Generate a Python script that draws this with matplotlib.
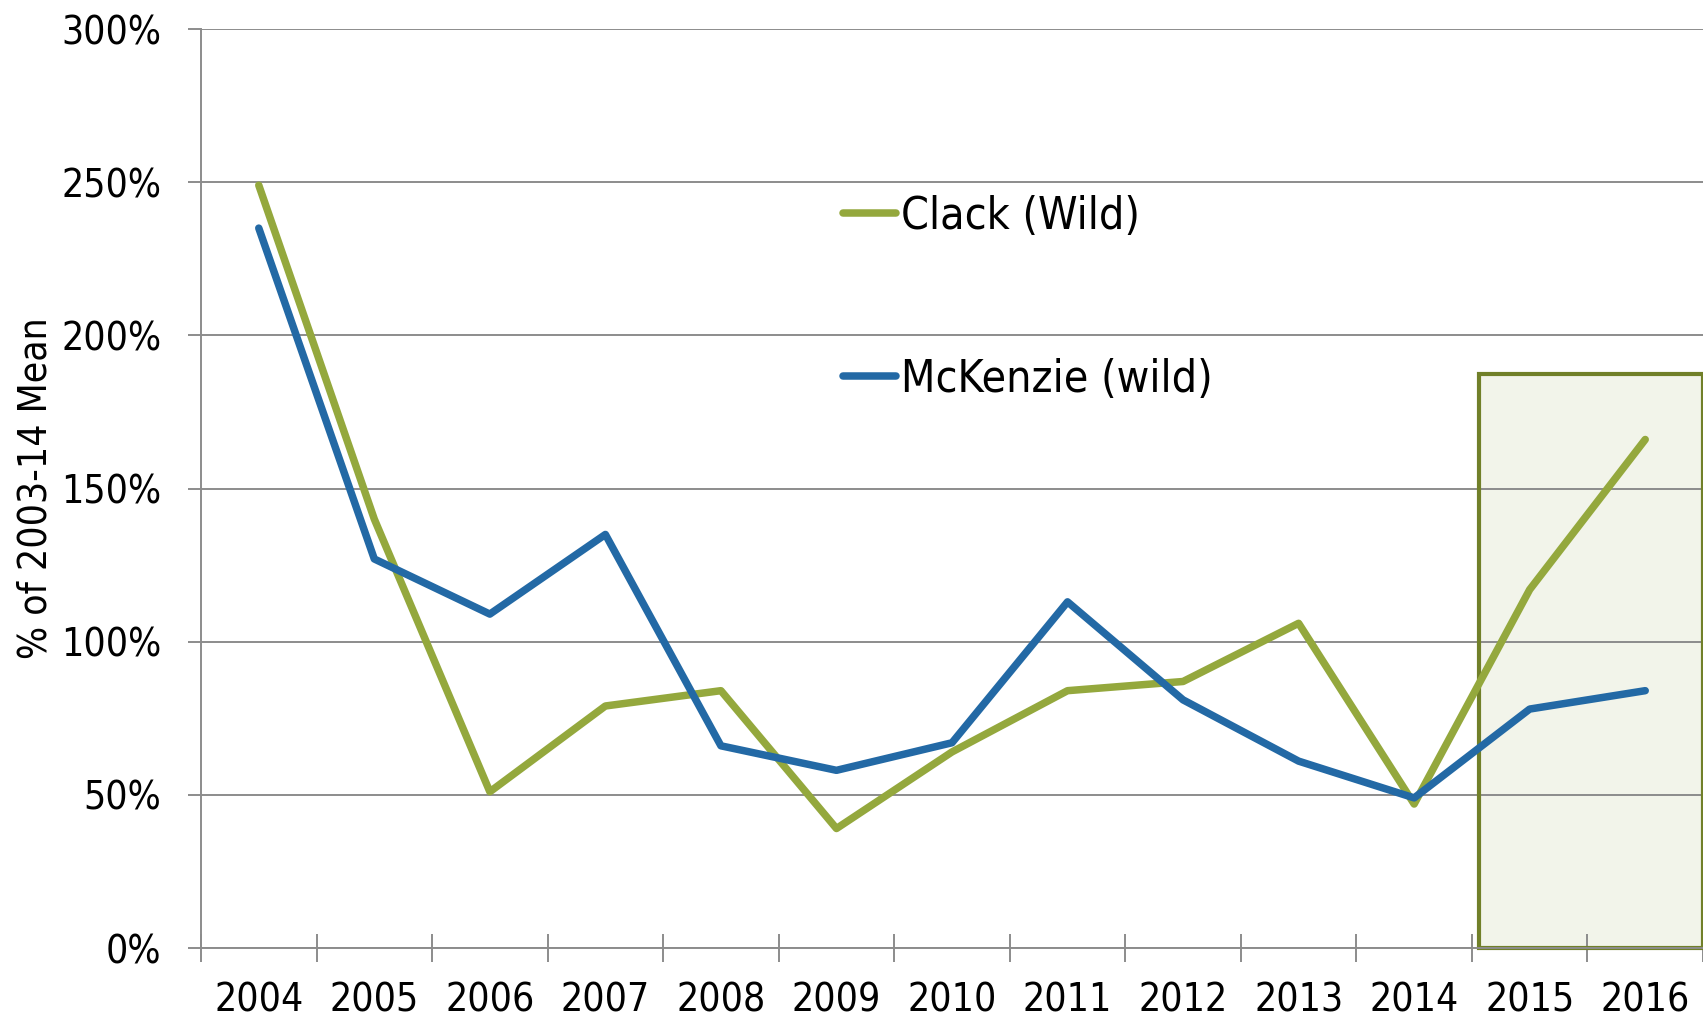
import matplotlib
matplotlib.use("Agg")
import matplotlib.pyplot as plt
from matplotlib import font_manager as fm
from matplotlib.patches import Rectangle

# the original uses a narrow sans; take a condensed face if the system has one
narrow = [f for f in fm.fontManager.ttflist
          if ('condensed' in f.fname.lower() or 'narrow' in f.fname.lower())
          and 'bold' not in f.fname.lower() and 'oblique' not in f.fname.lower()
          and 'italic' not in f.fname.lower() and 'mono' not in f.fname.lower()]
if narrow:
    fm.fontManager.addfont(narrow[0].fname)
    plt.rcParams['font.family'] = [narrow[0].name, 'DejaVu Sans']
    plt.rcParams['font.stretch'] = narrow[0].stretch
else:
    plt.rcParams['font.family'] = ['Liberation Sans', 'DejaVu Sans']

# data (% of 2003-14 mean)
years = ['2004', '2005', '2006', '2007', '2008', '2009', '2010',
         '2011', '2012', '2013', '2014', '2015', '2016']
clack = [249, 140, 51, 79, 84, 39, 64, 84, 87, 106, 47, 117, 166]
mckenzie = [235, 127, 109, 135, 66, 58, 67, 113, 81, 61, 49, 78, 84]
y_ticks = [0, 50, 100, 150, 200, 250, 300]

# highlighted forecast years
box_from, box_to, box_top = 10.56, 12.5, 187.5

green = '#94A83D'
blue = '#2369A5'
grid_c = '#8C8C8C'

fig = plt.figure(figsize=(17.03, 10.22), dpi=100)
ax = fig.add_axes([201 / 1703, 74 / 1022, 1502 / 1703, 919 / 1022])

x = list(range(len(years)))

# shaded box behind the lines
ax.add_patch(Rectangle((box_from, 0), box_to - box_from, box_top,
                       facecolor='#F2F4EA', edgecolor='none', zorder=0.2))
ax.add_patch(Rectangle((box_from, 0), box_to - box_from, box_top,
                       facecolor='none', edgecolor='#718029', linewidth=3,
                       zorder=1.5, clip_on=False))

ax.plot(x, clack, color=green, lw=5.4, solid_capstyle='round', label='Clack (Wild)', zorder=3)
ax.plot(x, mckenzie, color=blue, lw=5.4, solid_capstyle='round', label='McKenzie (wild)', zorder=3)

ax.set_xlim(-0.5, len(years) - 0.5)
ax.set_ylim(0, 300)
ax.set_yticks(y_ticks)
ax.set_yticklabels([f'{v}%' for v in y_ticks])
ax.set_xticks(x)
ax.set_xticklabels(years)
ax.set_xticks([i - 0.5 for i in x] + [len(years) - 0.5], minor=True)

ax.set_axisbelow(True)
ax.yaxis.grid(True, color=grid_c, lw=1.4)
for s in ['top', 'right']:
    ax.spines[s].set_visible(False)
for s in ['left', 'bottom']:
    ax.spines[s].set_color(grid_c)
    ax.spines[s].set_linewidth(1.4)

ax.tick_params(axis='y', length=9.5, width=1.4, color=grid_c, labelsize=28, pad=19)
ax.tick_params(axis='x', which='major', length=0, labelsize=28, pad=24)
ax.tick_params(axis='x', which='minor', length=20, width=1.4, color=grid_c, direction='inout')

ax.set_ylabel('% of 2003-14 Mean', fontsize=28, labelpad=5)

ax.legend(loc='upper left', bbox_to_anchor=(843 / 1703, 1 - 195 / 1022),
          bbox_transform=fig.transFigure, frameon=False, fontsize=32,
          handlelength=1.2, handletextpad=0.1, labelspacing=2.7,
          borderpad=0, borderaxespad=0)

plt.savefig('out.png', dpi=100)
